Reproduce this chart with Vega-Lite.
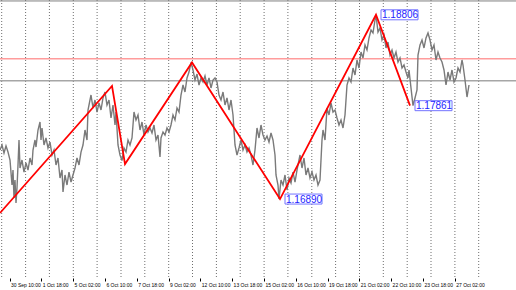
{
  "$schema": "https://vega.github.io/schema/vega-lite/v6.json",
  "width": 516,
  "height": 278,
  "autosize": {"type": "none"},
  "padding": {"left": 0, "top": 0, "right": 0, "bottom": 12},
  "background": "white",
  "config": {"view": {"stroke": null}},
  "layer": [
    {
      "data": {"values": [{"bar": 1.7},{"bar": 25.6},{"bar": 49.4},{"bar": 73.3},{"bar": 97.1},{"bar": 121},{"bar": 144.8},{"bar": 168.7},{"bar": 192.5},{"bar": 216.4},{"bar": 240.2},{"bar": 264.1},{"bar": 287.9},{"bar": 311.8},{"bar": 335.6},{"bar": 359.5},{"bar": 383.3},{"bar": 407.2},{"bar": 431},{"bar": 454.9},{"bar": 478.7}]},
      "mark": {"type": "rule", "color": "#6e6e6e", "strokeDash": [1, 2], "strokeWidth": 1},
      "encoding": {
        "x": {
          "field": "bar", "type": "quantitative",
          "scale": {"domain": [0, 516], "nice": false, "zero": false},
          "axis": {
            "orient": "bottom", "title": null, "grid": false, "domain": false,
            "values": [-22.3, 9.5, 41.3, 73.1, 104.9, 136.7, 168.5, 200.3, 232.1, 263.9, 295.7, 327.5, 359.3, 391.1, 422.9, 454.7],
            "labelExpr": "['29 Sep 02:00','30 Sep 10:00','1 Oct 18:00','5 Oct 02:00','6 Oct 10:00','7 Oct 18:00','9 Oct 02:00','12 Oct 10:00','13 Oct 18:00','15 Oct 02:00','16 Oct 10:00','19 Oct 18:00','21 Oct 02:00','22 Oct 10:00','23 Oct 18:00','27 Oct 02:00'][round((datum.value+22.3)/31.8)]",
            "ticks": true, "tickSize": 3, "tickColor": "#000000", "tickWidth": 1,
            "labelFont": "Liberation Sans", "labelFontSize": 5, "labelColor": "#000000",
            "labelAlign": "left", "labelOffset": 1, "labelPadding": 1,
            "labelFlush": false, "labelOverlap": false, "labelBound": false
          }
        }
      }
    },
    {
      "data": {"values": [{"price": 1.1895}]},
      "mark": {"type": "rule", "color": "#808080", "strokeWidth": 1},
      "encoding": {"y": {"field": "price", "type": "quantitative", "scale": {"domain": [1.16069, 1.1896], "nice": false, "zero": false}, "axis": null}}
    },
    {
      "data": {"values": [{"price": 1.1835}]},
      "mark": {"type": "rule", "color": "#ff9c9c", "strokeWidth": 1.5},
      "encoding": {"y": {"field": "price", "type": "quantitative", "scale": {"domain": [1.16069, 1.1896], "nice": false, "zero": false}, "axis": null}}
    },
    {
      "data": {"values": [{"price": 1.1812}]},
      "mark": {"type": "rule", "color": "#a6a6a6", "strokeWidth": 1.5},
      "encoding": {"y": {"field": "price", "type": "quantitative", "scale": {"domain": [1.16069, 1.1896], "nice": false, "zero": false}, "axis": null}}
    },
    {
      "encoding": {
        "x": {
          "field": "bar", "type": "quantitative",
          "scale": {"domain": [0, 516], "nice": false, "zero": false},
          "axis": {
            "orient": "bottom", "title": null, "grid": false, "domain": false,
            "values": [-22.3, 9.5, 41.3, 73.1, 104.9, 136.7, 168.5, 200.3, 232.1, 263.9, 295.7, 327.5, 359.3, 391.1, 422.9, 454.7],
            "labelExpr": "['29 Sep 02:00','30 Sep 10:00','1 Oct 18:00','5 Oct 02:00','6 Oct 10:00','7 Oct 18:00','9 Oct 02:00','12 Oct 10:00','13 Oct 18:00','15 Oct 02:00','16 Oct 10:00','19 Oct 18:00','21 Oct 02:00','22 Oct 10:00','23 Oct 18:00','27 Oct 02:00'][round((datum.value+22.3)/31.8)]",
            "ticks": true, "tickSize": 3, "tickColor": "#000000", "tickWidth": 1,
            "labelFont": "Liberation Sans", "labelFontSize": 5, "labelColor": "#000000",
            "labelAlign": "left", "labelOffset": 1, "labelPadding": 1,
            "labelFlush": false, "labelOverlap": false, "labelBound": false
          }
        },
        "y": {"field": "price", "type": "quantitative", "scale": {"domain": [1.16069, 1.1896], "nice": false, "zero": false}, "axis": null}
      },
      "layer": [
        {
          "data": {"values": [
            {"bar":0,"price":1.1740},{"bar":2,"price":1.17452},{"bar":4,"price":1.17369},{"bar":6,"price":1.17442},{"bar":8,"price":1.17379},{"bar":10,"price":1.17296},{"bar":12,"price":1.17036},{"bar":13,"price":1.17192},{"bar":14,"price":1.16901},{"bar":15,"price":1.17088},{"bar":16,"price":1.16849},{"bar":17,"price":1.17005},{"bar":18,"price":1.17244},{"bar":19,"price":1.17504},{"bar":20,"price":1.17213},{"bar":22,"price":1.17296},{"bar":24,"price":1.17171},{"bar":26,"price":1.17265},{"bar":28,"price":1.17192},{"bar":30,"price":1.17317},{"bar":32,"price":1.17244},{"bar":33,"price":1.1740},{"bar":35,"price":1.17504},{"bar":36,"price":1.17431},{"bar":38,"price":1.17608},{"bar":40,"price":1.17691},{"bar":41,"price":1.17504},{"bar":42,"price":1.17629},{"bar":44,"price":1.17452},{"bar":46,"price":1.17525},{"bar":48,"price":1.17421},{"bar":50,"price":1.17483},{"bar":52,"price":1.17348},{"bar":54,"price":1.1740},{"bar":56,"price":1.17244},{"bar":58,"price":1.17317},{"bar":60,"price":1.17109},{"bar":62,"price":1.17192},{"bar":63,"price":1.16963},{"bar":65,"price":1.1714},{"bar":67,"price":1.17036},{"bar":69,"price":1.17171},{"bar":71,"price":1.17067},{"bar":73,"price":1.1714},{"bar":75,"price":1.17213},{"bar":77,"price":1.17317},{"bar":79,"price":1.17244},{"bar":81,"price":1.17379},{"bar":83,"price":1.17452},{"bar":85,"price":1.17608},{"bar":87,"price":1.17504},{"bar":88,"price":1.17816},{"bar":90,"price":1.1792},{"bar":91,"price":1.17972},{"bar":93,"price":1.17837},{"bar":95,"price":1.1792},{"bar":97,"price":1.17795},{"bar":99,"price":1.17889},{"bar":101,"price":1.17816},{"bar":103,"price":1.17941},{"bar":105,"price":1.18003},{"bar":107,"price":1.17868},{"bar":109,"price":1.1792},{"bar":111,"price":1.17733},{"bar":113,"price":1.17868},{"bar":115,"price":1.1766},{"bar":116,"price":1.17795},{"bar":118,"price":1.17452},{"bar":120,"price":1.17348},{"bar":122,"price":1.1729},{"bar":124,"price":1.17421},{"bar":126,"price":1.17379},{"bar":128,"price":1.17504},{"bar":130,"price":1.17452},{"bar":132,"price":1.17525},{"bar":134,"price":1.17795},{"bar":136,"price":1.17712},{"bar":138,"price":1.17764},{"bar":140,"price":1.17608},{"bar":142,"price":1.17691},{"bar":144,"price":1.17556},{"bar":146,"price":1.1766},{"bar":148,"price":1.17587},{"bar":150,"price":1.17629},{"bar":152,"price":1.17577},{"bar":154,"price":1.1766},{"bar":156,"price":1.17504},{"bar":158,"price":1.17556},{"bar":160,"price":1.17327},{"bar":161,"price":1.17525},{"bar":163,"price":1.17587},{"bar":165,"price":1.17556},{"bar":167,"price":1.17629},{"bar":169,"price":1.17587},{"bar":171,"price":1.1766},{"bar":173,"price":1.17764},{"bar":175,"price":1.17712},{"bar":177,"price":1.17837},{"bar":179,"price":1.17795},{"bar":181,"price":1.17972},{"bar":183,"price":1.18076},{"bar":185,"price":1.18003},{"bar":187,"price":1.18149},{"bar":189,"price":1.18211},{"bar":191,"price":1.1831},{"bar":193,"price":1.18232},{"bar":195,"price":1.18128},{"bar":197,"price":1.1819},{"bar":199,"price":1.18076},{"bar":201,"price":1.18149},{"bar":203,"price":1.18107},{"bar":205,"price":1.1817},{"bar":207,"price":1.18076},{"bar":209,"price":1.18149},{"bar":211,"price":1.18045},{"bar":213,"price":1.18128},{"bar":215,"price":1.18149},{"bar":217,"price":1.18107},{"bar":219,"price":1.17972},{"bar":221,"price":1.1792},{"bar":223,"price":1.18003},{"bar":225,"price":1.17868},{"bar":227,"price":1.17941},{"bar":229,"price":1.17816},{"bar":231,"price":1.1792},{"bar":233,"price":1.17764},{"bar":235,"price":1.17452},{"bar":237,"price":1.17348},{"bar":239,"price":1.17421},{"bar":241,"price":1.17504},{"bar":243,"price":1.1740},{"bar":245,"price":1.17452},{"bar":247,"price":1.17379},{"bar":249,"price":1.17421},{"bar":251,"price":1.17348},{"bar":253,"price":1.17244},{"bar":255,"price":1.1740},{"bar":257,"price":1.17629},{"bar":259,"price":1.17525},{"bar":261,"price":1.1766},{"bar":263,"price":1.17556},{"bar":265,"price":1.17504},{"bar":267,"price":1.17546},{"bar":269,"price":1.17483},{"bar":271,"price":1.17577},{"bar":273,"price":1.17504},{"bar":275,"price":1.17348},{"bar":276,"price":1.1714},{"bar":278,"price":1.17036},{"bar":279,"price":1.1689},{"bar":281,"price":1.17088},{"bar":283,"price":1.17036},{"bar":285,"price":1.1714},{"bar":287,"price":1.16984},{"bar":289,"price":1.17109},{"bar":291,"price":1.17057},{"bar":293,"price":1.17171},{"bar":295,"price":1.17067},{"bar":297,"price":1.17192},{"bar":299,"price":1.17296},{"bar":300,"price":1.17348},{"bar":302,"price":1.17213},{"bar":304,"price":1.17317},{"bar":306,"price":1.1714},{"bar":308,"price":1.17213},{"bar":310,"price":1.17109},{"bar":312,"price":1.17171},{"bar":314,"price":1.17088},{"bar":316,"price":1.1714},{"bar":318,"price":1.17036},{"bar":320,"price":1.17088},{"bar":322,"price":1.17504},{"bar":323,"price":1.17608},{"bar":325,"price":1.17504},{"bar":327,"price":1.17837},{"bar":329,"price":1.17764},{"bar":331,"price":1.17889},{"bar":333,"price":1.17795},{"bar":335,"price":1.17816},{"bar":337,"price":1.17733},{"bar":339,"price":1.1766},{"bar":341,"price":1.17712},{"bar":343,"price":1.17629},{"bar":345,"price":1.17764},{"bar":347,"price":1.18076},{"bar":349,"price":1.18149},{"bar":351,"price":1.18107},{"bar":353,"price":1.18253},{"bar":355,"price":1.1818},{"bar":357,"price":1.18336},{"bar":359,"price":1.18253},{"bar":361,"price":1.18419},{"bar":363,"price":1.18357},{"bar":365,"price":1.18492},{"bar":367,"price":1.1844},{"bar":369,"price":1.18565},{"bar":371,"price":1.18648},{"bar":373,"price":1.18617},{"bar":375,"price":1.18752},{"bar":376,"price":1.18806},{"bar":378,"price":1.18627},{"bar":380,"price":1.18669},{"bar":382,"price":1.18544},{"bar":384,"price":1.18596},{"bar":386,"price":1.18461},{"bar":388,"price":1.18523},{"bar":390,"price":1.18388},{"bar":392,"price":1.1844},{"bar":394,"price":1.18357},{"bar":396,"price":1.18419},{"bar":398,"price":1.18315},{"bar":400,"price":1.18357},{"bar":402,"price":1.18253},{"bar":404,"price":1.18284},{"bar":406,"price":1.18211},{"bar":408,"price":1.18149},{"bar":409,"price":1.18232},{"bar":411,"price":1.18045},{"bar":413,"price":1.17861},{"bar":415,"price":1.17941},{"bar":417,"price":1.18024},{"bar":418,"price":1.18388},{"bar":420,"price":1.18492},{"bar":422,"price":1.18544},{"bar":424,"price":1.18461},{"bar":426,"price":1.18565},{"bar":428,"price":1.18617},{"bar":430,"price":1.18544},{"bar":432,"price":1.1844},{"bar":434,"price":1.18492},{"bar":436,"price":1.18336},{"bar":438,"price":1.18419},{"bar":440,"price":1.18357},{"bar":442,"price":1.18315},{"bar":444,"price":1.18232},{"bar":446,"price":1.18076},{"bar":448,"price":1.18211},{"bar":450,"price":1.18128},{"bar":452,"price":1.18232},{"bar":454,"price":1.18107},{"bar":456,"price":1.18149},{"bar":458,"price":1.18253},{"bar":460,"price":1.18211},{"bar":462,"price":1.18336},{"bar":463,"price":1.18284},{"bar":465,"price":1.18128},{"bar":467,"price":1.17951},{"bar":469,"price":1.18076}
          ]},
          "mark": {"type": "line", "color": "#7a7a7a", "strokeWidth": 1.4}
        },
        {
          "data": {"values": [
            {"bar": 0, "price": 1.16745},
            {"bar": 112, "price": 1.18066},
            {"bar": 125, "price": 1.17254},
            {"bar": 192, "price": 1.1831},
            {"bar": 280, "price": 1.1689},
            {"bar": 376, "price": 1.18806},
            {"bar": 410, "price": 1.17861}
          ]},
          "mark": {"type": "line", "color": "#ff0000", "strokeWidth": 1.8}
        },
        {
          "data": {"values": [
            {"bar": 376, "price": 1.18806, "label": "1.18806"},
            {"bar": 410, "price": 1.17861, "label": "1.17861"},
            {"bar": 280, "price": 1.1689, "label": "1.16890"}
          ]},
          "layer": [
            {"mark": {"type": "rect", "width": 37, "height": 10, "xOffset": 23.5, "fill": "#ffffff", "stroke": "#7373ff", "strokeWidth": 1}},
            {
              "mark": {"type": "text", "align": "left", "baseline": "middle", "dx": 6, "dy": 0.5, "font": "Liberation Sans", "fontSize": 10, "color": "#2323ff"},
              "encoding": {"text": {"field": "label"}}
            }
          ]
        }
      ]
    }
  ]
}
